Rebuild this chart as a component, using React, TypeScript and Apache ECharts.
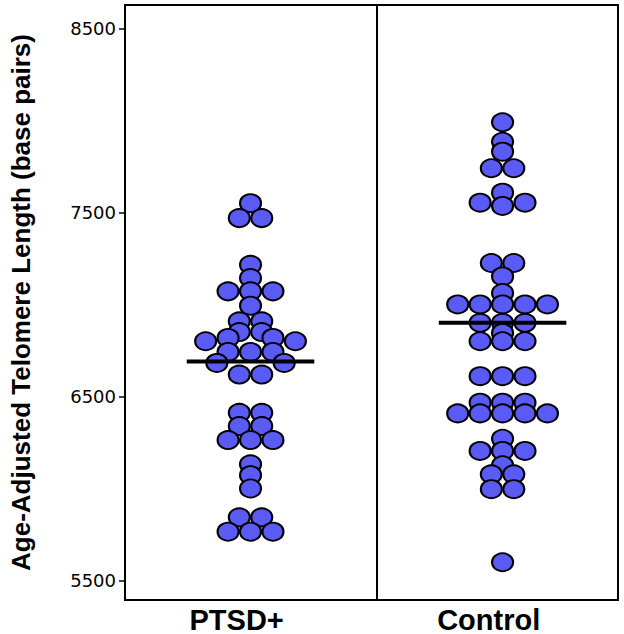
import React, { useEffect, useRef } from 'react';
import * as echarts from 'echarts';

// ---- data ----
const categories = ['PTSD+', 'Control'];

// PTSD+ telomere lengths (bp) and their swarm slot (half-column index)
const ptsdValues = [
  7550, 7469, 7469, 7215, 7143, 7071, 7071, 7071, 6993, 6908, 6908, 6850, 6850,
  6818, 6818, 6800, 6800, 6742, 6742, 6742, 6682, 6682, 6619, 6619, 6411, 6411,
  6339, 6339, 6263, 6263, 6263, 6131, 6072, 6000, 5843, 5843, 5765, 5765, 5765,
];
const ptsdSlots = [
  0, -1, 1, 0, 0, -2, 0, 2, 0, -1, 1, -1, 1,
  -2, 2, -4, 4, -2, 0, 2, -3, 3, -1, 1, -1, 1,
  -1, 1, -2, 0, 2, 0, 0, 0, -1, 1, -2, 0, 2,
];

// Control telomere lengths (bp) and their swarm slot
const controlValues = [
  7990, 7884, 7830, 7740, 7740, 7607, 7553, 7553, 7535, 7225, 7225, 7152, 7062,
  7000, 7000, 7000, 7000, 7000, 6900, 6900, 6900, 6845, 6800, 6800, 6800,
  6610, 6610, 6610, 6466, 6466, 6466, 6408, 6408, 6408, 6408, 6408, 6270,
  6204, 6204, 6204, 6126, 6077, 6077, 5996, 5996, 5599,
];
const controlSlots = [
  0, 0, 0, -1, 1, 0, -2, 2, 0, -1, 1, 0, 0,
  -4, -2, 0, 2, 4, -2, 0, 2, 0, -2, 0, 2,
  -2, 0, 2, -2, 0, 2, -4, -2, 0, 2, 4, 0,
  -2, 0, 2, 0, -1, 1, -1, 1, 0,
];

const groupMeans = [6690, 6900];
const yTickValues = [5500, 6500, 7500, 8500];

// ---- layout / style constants ----
const SLOT = 0.0445;
const MEAN_HALF = 0.253;
const LABEL_SHIFT = -0.055;
const Y_MIN = 5394;
const Y_MAX = 8627;
const X_MIN = -0.498;
const X_MAX = 1.458;
const DOT_COLOR = '#5A5AF4';
const FONT = 'Liberation Sans, Arial, sans-serif';

export default function App() {
  const ref = useRef<HTMLDivElement>(null);

  useEffect(() => {
    if (!ref.current) return;
    const chart = echarts.init(ref.current, null, { renderer: 'svg' });

    const groups = [
      { values: ptsdValues, slots: ptsdSlots },
      { values: controlValues, slots: controlSlots },
    ];

    const dotSeries = groups.map((g, gi) => ({
      type: 'scatter',
      name: categories[gi],
      data: g.values.map((v, k) => [gi + g.slots[k] * SLOT, v]),
      symbol: 'circle',
      symbolSize: [21, 18],
      itemStyle: { color: DOT_COLOR, borderColor: '#000', borderWidth: 2, opacity: 1 },
      z: 3,
      silent: true,
    }));

    const meanSeries = groupMeans.map((m, gi) => ({
      type: 'line',
      data: [
        [gi - MEAN_HALF, m],
        [gi + MEAN_HALF, m],
      ],
      symbol: 'none',
      lineStyle: { color: '#000', width: 4 },
      z: 5,
      silent: true,
    }));

    const dividerSeries = {
      type: 'line',
      data: [],
      markLine: {
        silent: true,
        symbol: 'none',
        label: { show: false },
        lineStyle: { color: '#000', width: 2, type: 'solid' },
        data: [{ xAxis: 0.5 }],
      },
      z: 2,
    };

    chart.setOption({
      animation: false,
      backgroundColor: '#fff',
      grid: {
        left: 123,
        right: 6,
        top: 5,
        bottom: 32,
        show: true,
        borderColor: '#000',
        borderWidth: 2,
        backgroundColor: 'transparent',
      },
      xAxis: {
        type: 'value',
        min: X_MIN,
        max: X_MAX,
        axisLine: { show: true, onZero: false, lineStyle: { color: '#000', width: 2 } },
        axisTick: { show: false },
        splitLine: { show: false },
        axisLabel: {
          customValues: categories.map((_, i) => i + LABEL_SHIFT),
          formatter: (v: number) => categories[Math.round(v)] ?? '',
          color: '#000',
          fontSize: 29,
          fontWeight: 'bold',
          fontFamily: FONT,
          margin: 5,
        },
      },
      yAxis: {
        type: 'value',
        min: Y_MIN,
        max: Y_MAX,
        name: 'Age-Adjusted Telomere Length (base pairs)',
        nameLocation: 'middle',
        nameGap: 91,
        nameTextStyle: {
          color: '#000',
          fontSize: 26,
          fontWeight: 'bold',
          fontFamily: FONT,
        },
        axisLine: { show: true, onZero: false, lineStyle: { color: '#000', width: 2 } },
        axisTick: {
          show: true,
          length: 6,
          customValues: yTickValues,
          lineStyle: { color: '#000', width: 1.5 },
        },
        splitLine: { show: false },
        axisLabel: {
          customValues: yTickValues,
          formatter: (v: number) => String(v),
          color: '#000',
          fontSize: 18,
          fontFamily: 'DejaVu Sans, sans-serif',
          margin: 9,
        },
      },
      series: [dividerSeries, ...dotSeries, ...meanSeries],
    });

    return () => chart.dispose();
  }, []);

  return (
    <div
      ref={ref}
      style={{ position: 'fixed', left: 0, top: 0, width: 624, height: 634, background: '#fff' }}
    />
  );
}
